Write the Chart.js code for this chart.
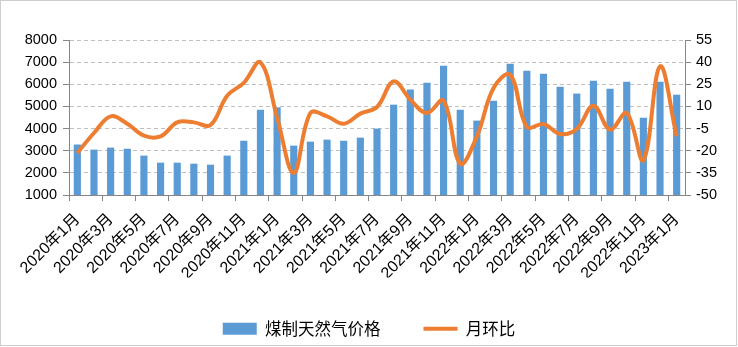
<!DOCTYPE html>
<html>
<head>
<meta charset="utf-8">
<script src="https://cdn.jsdelivr.net/npm/chart.js@4/dist/chart.umd.min.js"></script>
<style>
  html, body { margin: 0; padding: 0; background: #fff; }
  #wrap { width: 738px; height: 347px; position: relative; }
</style>
</head>
<body>
<div id="wrap"><canvas id="c" width="738" height="347"></canvas></div>
<script>
// Months, 2020-01 .. 2023-01
const months = [
  '2020年1月','2020年2月','2020年3月','2020年4月','2020年5月','2020年6月',
  '2020年7月','2020年8月','2020年9月','2020年10月','2020年11月','2020年12月',
  '2021年1月','2021年2月','2021年3月','2021年4月','2021年5月','2021年6月',
  '2021年7月','2021年8月','2021年9月','2021年10月','2021年11月','2021年12月',
  '2022年1月','2022年2月','2022年3月','2022年4月','2022年5月','2022年6月',
  '2022年7月','2022年8月','2022年9月','2022年10月','2022年11月','2022年12月',
  '2023年1月'
];

// 煤制天然气价格 (left axis)
const gasPrice = [
  3280, 3050, 3140, 3090, 2780, 2460, 2460, 2415, 2370, 2780, 3450, 4850,
  4960, 3230, 3410, 3500, 3450, 3590, 4000, 5080, 5760, 6070, 6840, 4850,
  4360, 5260, 6930, 6610, 6480, 5890, 5580, 6160, 5800, 6120, 4490, 6120,
  5530
];

// 月环比, % (right axis)
const momChange = [
  -21.5, -8.0, 3.3, -1.7, -9.8, -10.3, -0.8, -0.8, -2.6, 17.3, 25.9, 39.9,
  2.5, -35.1, 5.5, 3.3, -1.7, 5.1, 9.6, 27.0, 14.6, 5.5, 14.0, -28.8,
  -10.3, 22.5, 31.5, -3.9, -1.9, -8.7, -5.3, 10.5, -5.7, 5.5, -26.5, 37.2,
  -10.3
];

const leftTicks = { min: 1000, max: 8000, step: 1000 };
const rightTicks = { min: -50, max: 55, step: 15 };

const AXIS_GRAY = '#868686';
const GRID_GRAY = '#BFBFBF';
const BAR_BLUE = '#5B9BD5';
const LINE_ORANGE = '#ED7D31';
const tickFont = { family: "'Liberation Sans', 'Noto Sans CJK SC', sans-serif", size: 14.5 };
const catFont = { family: "'Liberation Sans', 'Noto Sans CJK SC', sans-serif", size: 16 };

Chart.defaults.color = '#000';

// dotted frame around the whole chart
const framePlugin = {
  id: 'frame',
  afterDraw(chart) {
    const ctx = chart.ctx;
    ctx.save();
    ctx.strokeStyle = '#9A9A9A';
    ctx.lineWidth = 1;
    ctx.setLineDash([1, 1]);
    ctx.strokeRect(0.5, 0.5, 736, 345);
    ctx.restore();
  }
};

new Chart(document.getElementById('c'), {
  data: {
    labels: months,
    datasets: [
      {
        type: 'bar',
        label: '煤制天然气价格',
        data: gasPrice,
        yAxisID: 'y',
        backgroundColor: BAR_BLUE,
        borderWidth: 0,
        barPercentage: 0.43,
        categoryPercentage: 1.0,
        pointStyle: 'rect',
        order: 2
      },
      {
        type: 'line',
        label: '月环比',
        data: momChange,
        yAxisID: 'y1',
        borderColor: LINE_ORANGE,
        backgroundColor: LINE_ORANGE,
        borderWidth: 4,
        pointRadius: 0,
        pointHoverRadius: 0,
        tension: 0.38,
        fill: false,
        pointStyle: 'line',
        order: 1
      }
    ]
  },
  options: {
    responsive: false,
    animation: false,
    devicePixelRatio: 1,
    layout: { padding: { top: 40, left: 0, right: 0, bottom: 0 } },
    plugins: {
      tooltip: { enabled: false },
      legend: {
        position: 'bottom',
        labels: {
          usePointStyle: true,
          pointStyleWidth: 34,
          boxHeight: 12,
          padding: 43,
          font: { family: "'Noto Sans CJK SC', sans-serif", size: 16.5 },
          color: '#000',
          sort: (a, b) => a.datasetIndex - b.datasetIndex
        }
      }
    },
    scales: {
      x: {
        offset: true,
        afterFit(scale) { scale.height = 82.5; },
        grid: {
          offset: true,
          drawOnChartArea: false,
          tickLength: 6,
          color: (ctx) => (ctx.index % 2 === 0 ? AXIS_GRAY : 'rgba(0,0,0,0)'),
          tickColor: (ctx) => (ctx.index % 2 === 0 ? AXIS_GRAY : 'rgba(0,0,0,0)')
        },
        border: { color: AXIS_GRAY, width: 1 },
        ticks: {
          autoSkip: false,
          minRotation: 45,
          maxRotation: 45,
          padding: 9,
          font: catFont,
          color: '#000',
          callback(value, index) { return index % 2 === 0 ? this.getLabelForValue(value) : ''; }
        }
      },
      y: {
        position: 'left',
        min: leftTicks.min,
        max: leftTicks.max,
        afterFit(scale) { scale.width = 69; },
        grid: {
          color: GRID_GRAY,
          tickColor: AXIS_GRAY,
          tickLength: 6,
          tickBorderDash: []
        },
        border: { color: AXIS_GRAY, width: 1, dash: [4, 3] },
        ticks: {
          stepSize: leftTicks.step,
          padding: 6,
          font: tickFont,
          color: '#000',
          callback: (v) => String(v)
        }
      },
      y1: {
        position: 'right',
        min: rightTicks.min,
        max: rightTicks.max,
        afterFit(scale) { scale.width = 53; },
        grid: {
          drawOnChartArea: false,
          tickColor: AXIS_GRAY,
          tickLength: 6
        },
        border: { color: AXIS_GRAY, width: 1 },
        ticks: {
          stepSize: rightTicks.step,
          padding: 5,
          font: tickFont,
          color: '#000',
          callback: (v) => String(v)
        }
      }
    }
  },
  plugins: [framePlugin]
});
</script>
</body>
</html>
